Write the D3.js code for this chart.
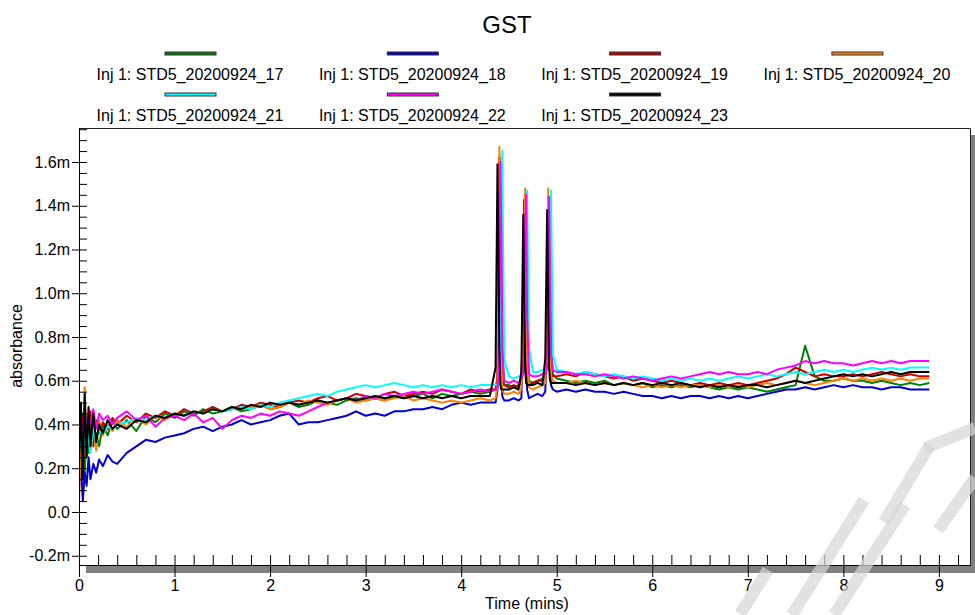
<!DOCTYPE html>
<html>
<head>
<meta charset="utf-8">
<script src="https://cdn.jsdelivr.net/npm/d3@7"></script>
<style>
body { margin: 0; background: #fff; }
svg { display: block; font-family: "Liberation Sans", Arial, sans-serif; }
</style>
</head>
<body>
<div id="chart"></div>
<script>
// ---------- data (absorbance in m units) ----------
var seriesNames = ['Inj 1: STD5_20200924_17', 'Inj 1: STD5_20200924_18', 'Inj 1: STD5_20200924_19',
                   'Inj 1: STD5_20200924_20', 'Inj 1: STD5_20200924_21', 'Inj 1: STD5_20200924_22',
                   'Inj 1: STD5_20200924_23'];
var seriesColors = ['#008000', '#0000d0', '#c80000', '#ff8000', '#00ffff', '#ff00ff', '#000000'];

// time (mins) - shared sample points, denser around the start and the three peaks
var times = [0.00, 0.02, 0.04, 0.06, 0.08, 0.10, 0.12, 0.15, 0.18, 0.21, 0.25, 0.30, 0.35,
    0.4, 0.5, 0.6, 0.7, 0.8, 0.9, 1.0, 1.1, 1.2, 1.3,
    1.4, 1.5, 1.6, 1.7, 1.8, 1.9, 2.0, 2.1, 2.2, 2.3,
    2.4, 2.5, 2.6, 2.7, 2.8, 2.9, 3.0, 3.1, 3.2, 3.3,
    3.4, 3.5, 3.6, 3.7, 3.8, 3.9, 4.0, 4.1, 4.2, 4.3,
    4.36, 4.38, 4.39, 4.40, 4.41, 4.42, 4.43, 4.45,
    4.50, 4.55, 4.60, 4.63, 4.65, 4.66, 4.67, 4.68, 4.69, 4.71, 4.75, 4.80, 4.85,
    4.88, 4.90, 4.91, 4.92, 4.93, 4.94, 4.96, 5.00,
    5.1, 5.2, 5.3, 5.4, 5.5, 5.6, 5.7, 5.8, 5.9, 6.0,
    6.1, 6.2, 6.3, 6.4, 6.5, 6.6, 6.7, 6.8, 6.9, 7.0,
    7.1, 7.2, 7.3, 7.4, 7.5, 7.6, 7.7, 7.8, 7.9, 8.0,
    8.1, 8.2, 8.3, 8.4, 8.5, 8.6, 8.7, 8.8, 8.9];

var inj17 = [0.30, 0.22, 0.45, 0.18, 0.38, 0.27, 0.41, 0.33, 0.36, 0.30, 0.40, 0.35, 0.42,
    0.38, 0.42, 0.37, 0.44, 0.41, 0.45, 0.43, 0.46, 0.44, 0.47,
    0.45, 0.46, 0.48, 0.46, 0.47, 0.49, 0.47, 0.48, 0.50, 0.48,
    0.49, 0.51, 0.50, 0.49, 0.51, 0.52, 0.51, 0.52, 0.51, 0.53,
    0.52, 0.53, 0.54, 0.52, 0.54, 0.53, 0.54, 0.55, 0.54, 0.55,
    0.56, 0.60, 0.78, 1.32, 1.60, 1.30, 0.75, 0.58,
    0.58, 0.57, 0.58, 0.60, 0.85, 1.20, 1.44, 1.15, 0.80, 0.60, 0.59, 0.60, 0.61,
    0.62, 0.72, 1.05, 1.43, 1.10, 0.75, 0.63, 0.61,
    0.60, 0.59, 0.60, 0.59, 0.60, 0.58, 0.59, 0.58, 0.59, 0.57,
    0.58, 0.57, 0.58, 0.57, 0.58, 0.57, 0.56, 0.57, 0.56, 0.57,
    0.56, 0.55, 0.56, 0.57, 0.58, 0.76, 0.62, 0.60, 0.60, 0.61,
    0.60, 0.60, 0.59, 0.60, 0.59, 0.58, 0.59, 0.58, 0.59];

var inj18 = [0.10, 0.22, 0.05, 0.18, 0.12, 0.25, 0.15, 0.22, 0.18, 0.24, 0.21, 0.26, 0.23,
    0.22, 0.27, 0.30, 0.33, 0.32, 0.34, 0.35, 0.36, 0.38, 0.39,
    0.37, 0.39, 0.40, 0.42, 0.40, 0.41, 0.42, 0.44, 0.45, 0.40,
    0.41, 0.41, 0.42, 0.43, 0.44, 0.46, 0.44, 0.45, 0.44, 0.46,
    0.46, 0.47, 0.47, 0.48, 0.47, 0.49, 0.50, 0.49, 0.50, 0.50,
    0.50, 0.56, 1.10, 1.62, 1.25, 0.70, 0.53, 0.51,
    0.51, 0.52, 0.51, 0.52, 0.80, 1.42, 1.20, 0.75, 0.56, 0.52, 0.53, 0.54, 0.53,
    0.55, 0.80, 1.44, 1.15, 0.72, 0.58, 0.56, 0.55,
    0.56, 0.55, 0.56, 0.55, 0.55, 0.54, 0.55, 0.54, 0.53, 0.53,
    0.52, 0.53, 0.52, 0.53, 0.53, 0.52, 0.53, 0.52, 0.53, 0.52,
    0.53, 0.54, 0.55, 0.56, 0.56, 0.57, 0.56, 0.57, 0.58, 0.57,
    0.58, 0.57, 0.57, 0.56, 0.57, 0.57, 0.56, 0.56, 0.56];

var inj19 = [0.35, 0.28, 0.44, 0.25, 0.40, 0.32, 0.46, 0.30, 0.42, 0.36, 0.41, 0.38, 0.43,
    0.40, 0.44, 0.41, 0.45, 0.43, 0.46, 0.44, 0.47, 0.45, 0.46,
    0.48, 0.46, 0.47, 0.49, 0.48, 0.50, 0.49, 0.48, 0.50, 0.51,
    0.50, 0.52, 0.53, 0.51, 0.52, 0.54, 0.53, 0.52, 0.54, 0.55,
    0.53, 0.54, 0.55, 0.54, 0.56, 0.55, 0.54, 0.56, 0.55, 0.56,
    0.56, 0.62, 1.00, 1.62, 1.20, 0.72, 0.60, 0.58,
    0.57, 0.58, 0.57, 0.60, 0.92, 1.43, 1.15, 0.74, 0.62, 0.58, 0.59, 0.60, 0.60,
    0.62, 0.85, 1.42, 1.12, 0.74, 0.64, 0.62, 0.62,
    0.63, 0.62, 0.64, 0.63, 0.62, 0.61, 0.62, 0.60, 0.61, 0.60,
    0.59, 0.60, 0.59, 0.58, 0.59, 0.58, 0.59, 0.58, 0.59, 0.58,
    0.59, 0.60, 0.61, 0.63, 0.66, 0.64, 0.62, 0.63, 0.62, 0.62,
    0.63, 0.62, 0.63, 0.64, 0.63, 0.62, 0.63, 0.62, 0.62];

var inj20 = [0.02, 0.38, 0.20, 0.57, 0.25, 0.45, 0.30, 0.40, 0.28, 0.42, 0.35, 0.40, 0.37,
    0.42, 0.39, 0.43, 0.40, 0.44, 0.42, 0.45, 0.44, 0.46, 0.45,
    0.47, 0.46, 0.48, 0.47, 0.48, 0.49, 0.47, 0.48, 0.50, 0.49,
    0.51, 0.50, 0.49, 0.51, 0.52, 0.50, 0.51, 0.52, 0.51, 0.52,
    0.53, 0.51, 0.52, 0.51, 0.50, 0.51, 0.50, 0.51, 0.52, 0.51,
    0.52, 0.58, 1.05, 1.67, 1.25, 0.70, 0.56, 0.54,
    0.54, 0.55, 0.54, 0.56, 0.82, 1.25, 1.48, 1.10, 0.70, 0.57, 0.56, 0.57, 0.58,
    0.59, 0.80, 1.48, 1.15, 0.72, 0.62, 0.60, 0.59,
    0.59, 0.60, 0.59, 0.58, 0.59, 0.58, 0.59, 0.58, 0.57, 0.58,
    0.57, 0.58, 0.57, 0.58, 0.58, 0.57, 0.58, 0.57, 0.58, 0.57,
    0.58, 0.59, 0.58, 0.59, 0.60, 0.59, 0.58, 0.59, 0.60, 0.61,
    0.60, 0.61, 0.60, 0.61, 0.60, 0.61, 0.60, 0.61, 0.61];

var inj21 = [0.28, 0.36, 0.22, 0.40, 0.30, 0.35, 0.27, 0.38, 0.33, 0.37, 0.36, 0.39, 0.38,
    0.40, 0.41, 0.43, 0.42, 0.44, 0.43, 0.45, 0.44, 0.46, 0.45,
    0.47, 0.46, 0.47, 0.48, 0.47, 0.49, 0.48, 0.50, 0.51, 0.52,
    0.53, 0.54, 0.53, 0.55, 0.56, 0.57, 0.58, 0.57, 0.58, 0.59,
    0.58, 0.57, 0.58, 0.57, 0.58, 0.57, 0.58, 0.57, 0.58, 0.58,
    0.58, 0.58, 0.59, 0.62, 0.85, 1.30, 1.65, 0.70,
    0.62, 0.61, 0.62, 0.62, 0.63, 0.66, 0.90, 1.30, 1.47, 0.75, 0.64, 0.64, 0.65,
    0.64, 0.65, 0.68, 0.95, 1.30, 1.47, 0.72, 0.65,
    0.64, 0.63, 0.64, 0.63, 0.62, 0.63, 0.62, 0.61, 0.62, 0.61,
    0.60, 0.61, 0.60, 0.61, 0.60, 0.61, 0.60, 0.61, 0.62, 0.61,
    0.62, 0.63, 0.62, 0.63, 0.64, 0.63, 0.64, 0.65, 0.64, 0.65,
    0.64, 0.65, 0.66, 0.65, 0.66, 0.65, 0.66, 0.66, 0.66];

var inj22 = [0.38, 0.45, 0.30, 0.48, 0.35, 0.44, 0.40, 0.47, 0.38, 0.45, 0.42, 0.44, 0.40,
    0.43, 0.46, 0.42, 0.44, 0.39, 0.43, 0.44, 0.42, 0.45, 0.41,
    0.43, 0.38, 0.42, 0.44, 0.43, 0.45, 0.44, 0.46, 0.45, 0.44,
    0.46, 0.48, 0.50, 0.51, 0.52, 0.51, 0.53, 0.52, 0.54, 0.53,
    0.54, 0.55, 0.54, 0.55, 0.56, 0.55, 0.54, 0.55, 0.56, 0.55,
    0.56, 0.57, 0.62, 0.95, 1.60, 1.28, 0.75, 0.60,
    0.59, 0.60, 0.59, 0.61, 0.63, 0.88, 1.30, 1.45, 0.90, 0.63, 0.62, 0.62, 0.63,
    0.63, 0.66, 0.95, 1.44, 1.10, 0.72, 0.65, 0.64,
    0.64, 0.63, 0.63, 0.62, 0.63, 0.62, 0.61, 0.62, 0.61, 0.60,
    0.61, 0.62, 0.61, 0.62, 0.63, 0.64, 0.63, 0.64, 0.63, 0.63,
    0.64, 0.63, 0.65, 0.66, 0.67, 0.69, 0.68, 0.69, 0.68, 0.68,
    0.67, 0.68, 0.69, 0.68, 0.69, 0.68, 0.69, 0.69, 0.69];

var inj23 = [0.20, 0.50, 0.15, 0.54, 0.25, 0.48, 0.30, 0.45, 0.32, 0.40, 0.36, 0.42, 0.38,
    0.40, 0.38, 0.42, 0.41, 0.44, 0.43, 0.45, 0.44, 0.46, 0.45,
    0.47, 0.46, 0.48, 0.47, 0.49, 0.48, 0.50, 0.49, 0.50, 0.49,
    0.50, 0.51, 0.50, 0.51, 0.52, 0.51, 0.52, 0.53, 0.52, 0.53,
    0.52, 0.53, 0.52, 0.53, 0.52, 0.53, 0.52, 0.53, 0.53, 0.53,
    0.66, 1.59, 1.20, 0.75, 0.58, 0.56, 0.56, 0.56,
    0.56, 0.57, 0.56, 0.64, 1.36, 1.00, 0.65, 0.59, 0.58, 0.58, 0.58, 0.59, 0.58,
    0.70, 1.38, 1.02, 0.66, 0.60, 0.59, 0.59, 0.59,
    0.59, 0.58, 0.59, 0.58, 0.59, 0.58, 0.59, 0.58, 0.59, 0.58,
    0.59, 0.58, 0.59, 0.58, 0.57, 0.58, 0.57, 0.58, 0.57, 0.58,
    0.58, 0.57, 0.58, 0.59, 0.60, 0.59, 0.60, 0.61, 0.62, 0.63,
    0.62, 0.63, 0.62, 0.63, 0.64, 0.63, 0.64, 0.64, 0.64];

var seriesValues = [inj17, inj18, inj19, inj20, inj21, inj22, inj23];

var xTicks = [0, 1, 2, 3, 4, 5, 6, 7, 8, 9];
var yTicks = [-0.2, 0, 0.2, 0.4, 0.6, 0.8, 1.0, 1.2, 1.4, 1.6];
var yTickLabels = ['-0.2m', '0.0', '0.2m', '0.4m', '0.6m', '0.8m', '1.0m', '1.2m', '1.4m', '1.6m'];

// ---------- layout ----------
var svgwidth = 975;
var svgheight = 615;
var plotLeft = 79, plotRight = 970, plotTop = 128, plotBottom = 565;

var svg = d3.select('#chart')
            .append('svg')
            .attr('width', svgwidth)
            .attr('height', svgheight);

var xscale = d3.scaleLinear()
                .domain([0, 9.3256])
                .range([plotLeft, plotRight]);
var yscale = d3.scaleLinear()
                .domain([-0.2423, 1.7554])
                .range([plotBottom, plotTop]);

// title
svg.append('text')
    .attr('x', 507)
    .attr('y', 33)
    .style('text-anchor', 'middle')
    .style('font-size', '24px')
    .text('GST');

// legend: 4 columns, swatch above label
var legend = svg.append('g').attr('class', 'legend');
seriesNames.forEach(function(name, i) {
    var col = i % 4, row = Math.floor(i / 4);
    var cx = 190 + col * 222.3;
    var ry = row * 41;
    legend.append('rect')
        .attr('x', cx - 25)
        .attr('y', 52 + ry)
        .attr('width', 51)
        .attr('height', 3)
        .attr('fill', seriesColors[i])
        .attr('stroke', '#333')
        .attr('stroke-width', 1);
    legend.append('text')
        .attr('x', cx)
        .attr('y', 80 + ry)
        .style('text-anchor', 'middle')
        .style('font-size', '16px')
        .text(name);
});

// drop shadow of the plot frame
svg.append('rect')
    .attr('x', 86).attr('y', 566)
    .attr('width', 889).attr('height', 7)
    .attr('fill', '#808080');
svg.append('rect')
    .attr('x', 971).attr('y', 135)
    .attr('width', 4).attr('height', 438)
    .attr('fill', '#808080');

// traces
svg.append('clipPath')
    .attr('id', 'plotclip')
    .append('rect')
    .attr('x', plotLeft).attr('y', plotTop)
    .attr('width', plotRight - plotLeft).attr('height', plotBottom - plotTop);

var line = d3.line()
            .x(function(d) { return xscale(d[0]); })
            .y(function(d) { return yscale(d[1]); });

svg.append('g')
    .attr('clip-path', 'url(#plotclip)')
    .selectAll('path')
    .data(seriesValues)
    .join('path')
    .attr('d', function(vals) { return line(vals.map(function(v, k) { return [times[k], v]; })); })
    .attr('fill', 'none')
    .attr('stroke', function(d, i) { return seriesColors[i]; })
    .attr('stroke-width', 2)
    .attr('stroke-linejoin', 'round');

// frame (top + right)
svg.append('path')
    .attr('d', 'M' + plotLeft + ',' + (plotTop + 0.5) + 'H' + (plotRight + 0.5) + 'V' + plotBottom)
    .attr('fill', 'none')
    .attr('stroke', '#222')
    .attr('stroke-width', 1);

// y axis: labelled major ticks outside, minor ticks inside every 0.05
var yMajor = d3.axisLeft(yscale)
                .tickValues(yTicks)
                .tickSize(7)
                .tickPadding(2)
                .tickFormat(function(d, i) { return yTickLabels[i]; });
var gy = svg.append('g')
    .attr('transform', 'translate(' + plotLeft + ',0)')
    .call(yMajor);
gy.selectAll('text').style('font-size', '16px').style('font-family', null).attr('fill', '#000');
gy.select('.domain').remove();

var yMinor = d3.axisRight(yscale)
                .tickValues(d3.range(-0.2, 1.76, 0.05))
                .tickSize(8)
                .tickFormat('');
var gy2 = svg.append('g')
    .attr('transform', 'translate(' + plotLeft + ',0)')
    .call(yMinor);
gy2.select('.domain').remove();

// x axis: labelled major ticks cross the axis, minor ticks every 0.2
var xMajor = d3.axisBottom(xscale)
                .tickValues(xTicks)
                .tickSize(12)
                .tickPadding(3)
                .tickFormat(d3.format('d'));
var gx = svg.append('g')
    .attr('transform', 'translate(0,' + plotBottom + ')')
    .call(xMajor);
gx.selectAll('text').style('font-size', '16px').style('font-family', null).attr('fill', '#000');
gx.select('.domain').remove();

var xMinor = d3.axisTop(xscale)
                .tickValues(d3.range(0, 9.3, 0.2))
                .tickSize(10)
                .tickFormat('');
var gx2 = svg.append('g')
    .attr('transform', 'translate(0,' + plotBottom + ')')
    .call(xMinor);
gx2.select('.domain').remove();

// axis lines
svg.append('path')
    .attr('d', 'M' + (plotLeft + 0.5) + ',' + plotTop + 'V' + (plotBottom + 8) +
               'M' + plotLeft + ',' + (plotBottom + 0.5) + 'H' + (plotRight + 1))
    .attr('fill', 'none')
    .attr('stroke', '#000')
    .attr('stroke-width', 1);

// axis titles
svg.append('text')
    .attr('x', 527)
    .attr('y', 609)
    .style('text-anchor', 'middle')
    .style('font-size', '16px')
    .text('Time (mins)');
svg.append('text')
    .attr('transform', 'translate(22,346) rotate(-90)')
    .style('text-anchor', 'middle')
    .style('font-size', '16px')
    .text('absorbance');

// faint watermark strokes in the lower right corner
var wm = [[[740, 614], [768, 570]], [[792, 615], [864, 500]], [[834, 615], [905, 505]],
          [[884, 522], [930, 445]], [[925, 448], [975, 428]], [[938, 530], [975, 478]]];
svg.append('g')
    .selectAll('path')
    .data(wm)
    .join('path')
    .attr('d', function(d) { return d3.line()(d); })
    .attr('stroke', '#d6d6d6')
    .attr('stroke-opacity', 0.7)
    .attr('stroke-width', 12)
    .attr('fill', 'none');
</script>
</body>
</html>
